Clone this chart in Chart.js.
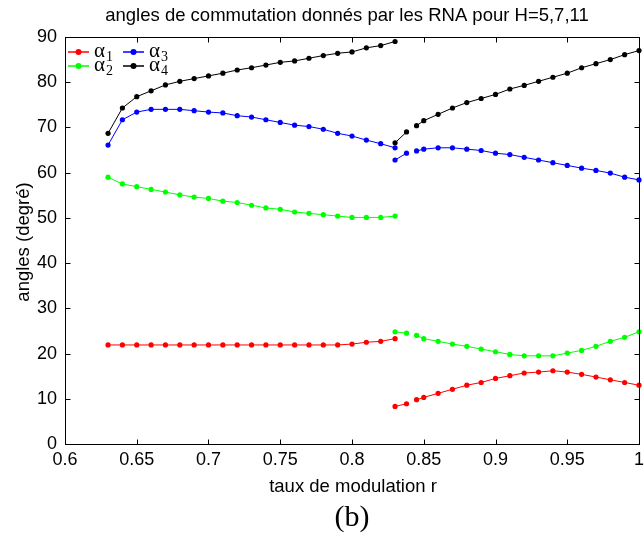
<!DOCTYPE html>
<html>
<head>
<meta charset="utf-8">
<script src="https://cdn.jsdelivr.net/npm/chart.js@4/dist/chart.umd.min.js"></script>
<style>
  html, body { margin: 0; padding: 0; background: #fff; }
  #wrap { width: 644px; height: 538px; }
</style>
</head>
<body>
<div id="wrap"><canvas id="graficoAngles" width="644" height="538"></canvas></div>
<script>
// taux de modulation r (null = coupure de la courbe)
const tauxR = [
  0.63, 0.64, 0.65, 0.66, 0.67, 0.68, 0.69, 0.70, 0.71, 0.72, 0.73,
  0.74, 0.75, 0.76, 0.77, 0.78, 0.79, 0.80, 0.81, 0.82, 0.83,
  null,
  0.83, 0.838,
  null,
  0.845, 0.85, 0.86, 0.87, 0.88, 0.89, 0.90, 0.91, 0.92, 0.93,
  0.94, 0.95, 0.96, 0.97, 0.98, 0.99, 1.00
];

const alpha1 = [
  21.9, 21.9, 21.9, 21.9, 21.9, 21.9, 21.9, 21.9, 21.9, 21.9, 21.9,
  21.9, 21.9, 21.9, 21.9, 21.9, 21.9, 22.1, 22.5, 22.7, 23.3,
  null,
  8.3, 8.9,
  null,
  9.8, 10.3, 11.2, 12.1, 13.0, 13.6, 14.5, 15.1, 15.7, 15.9,
  16.2, 15.9, 15.4, 14.8, 14.2, 13.6, 13.0
];

const alpha2 = [
  59.0, 57.5, 56.9, 56.3, 55.7, 55.1, 54.6, 54.3, 53.7, 53.4, 52.8,
  52.2, 51.9, 51.3, 51.0, 50.7, 50.4, 50.1, 50.1, 50.1, 50.4,
  null,
  24.8, 24.5,
  null,
  24.0, 23.3, 22.7, 22.1, 21.6, 21.0, 20.4, 19.8, 19.5, 19.5,
  19.5, 20.1, 20.7, 21.6, 22.7, 23.6, 24.8
];

const alpha3 = [
  66.1, 71.7, 73.4, 74.0, 74.0, 74.0, 73.7, 73.4, 73.2, 72.6, 72.3,
  71.7, 71.1, 70.5, 70.2, 69.6, 68.7, 68.1, 67.2, 66.4, 65.5,
  null,
  62.8, 64.3,
  null,
  64.8, 65.2, 65.5, 65.5, 65.2, 64.9, 64.3, 64.0, 63.4, 62.8,
  62.2, 61.6, 61.0, 60.5, 59.9, 59.0, 58.4
];

const alpha4 = [
  68.7, 74.3, 76.8, 78.1, 79.4, 80.2, 80.8, 81.4, 82.0, 82.7, 83.2,
  83.8, 84.4, 84.7, 85.3, 85.9, 86.4, 86.7, 87.6, 88.1, 89.0,
  null,
  66.6, 69.0,
  null,
  70.4, 71.5, 72.9, 74.3, 75.5, 76.4, 77.3, 78.5, 79.3, 80.2,
  81.1, 82.0, 83.2, 84.1, 85.0, 86.1, 87.0
];

const xTicks = [0.6, 0.65, 0.7, 0.75, 0.8, 0.85, 0.9, 0.95, 1];
const yTicks = [0, 10, 20, 30, 40, 50, 60, 70, 80, 90];

const series = [
  { nom: "1", valeurs: alpha1, couleur: "#ff0000" },
  { nom: "2", valeurs: alpha2, couleur: "#00ff00" },
  { nom: "3", valeurs: alpha3, couleur: "#0000ff" },
  { nom: "4", valeurs: alpha4, couleur: "#000000" },
];

const police = "'Liberation Sans', Arial, sans-serif";

function versPoints(valeurs) {
  return tauxR.map((r, i) => ({ x: r, y: valeurs[i] }));
}

// cadre, graduations vers l'intérieur, titres et légende façon Matlab
const habillage = {
  id: "habillage",
  afterDraw(chart) {
    const ctx = chart.ctx;
    const { left, right, top, bottom } = chart.chartArea;
    const sx = chart.scales.x;
    const sy = chart.scales.y;
    const L = Math.round(left) + 0.5;
    const R = Math.round(right) + 0.5;
    const T = Math.round(top) + 0.5;
    const B = Math.round(bottom) + 0.5;

    ctx.save();
    ctx.strokeStyle = "#000";
    ctx.lineWidth = 1;
    ctx.strokeRect(L, T, R - L, B - T);

    const tick = 5;
    ctx.beginPath();
    xTicks.forEach((v) => {
      const px = Math.round(sx.getPixelForValue(v)) + 0.5;
      ctx.moveTo(px, B);
      ctx.lineTo(px, B - tick);
      ctx.moveTo(px, T);
      ctx.lineTo(px, T + tick);
    });
    yTicks.forEach((v) => {
      const py = Math.round(sy.getPixelForValue(v)) + 0.5;
      ctx.moveTo(L, py);
      ctx.lineTo(L + tick, py);
      ctx.moveTo(R, py);
      ctx.lineTo(R - tick, py);
    });
    ctx.stroke();

    ctx.fillStyle = "#000";
    ctx.textAlign = "center";
    ctx.textBaseline = "middle";
    ctx.font = `18.5px ${police}`;
    ctx.fillText("angles de commutation donnés par les RNA pour H=5,7,11", 347, 16);
    ctx.fillText("taux de modulation r", 353, 487);

    ctx.save();
    ctx.translate(24, 242);
    ctx.rotate(-Math.PI / 2);
    ctx.fillText("angles (degré)", 0, 0);
    ctx.restore();

    ctx.font = "30px 'Liberation Serif', 'Times New Roman', serif";
    ctx.fillText("(b)", 352, 518);

    // légende sur deux colonnes : α1 α3 / α2 α4
    const places = [
      { x: 68, y: 52 },
      { x: 68, y: 66 },
      { x: 123, y: 52 },
      { x: 123, y: 66 },
    ];
    series.forEach((s, i) => {
      const p = places[i];
      ctx.strokeStyle = s.couleur;
      ctx.fillStyle = s.couleur;
      ctx.lineWidth = 1.5;
      ctx.beginPath();
      ctx.moveTo(p.x, p.y);
      ctx.lineTo(p.x + 21, p.y);
      ctx.stroke();
      ctx.beginPath();
      ctx.arc(p.x + 10.5, p.y, 3, 0, Math.PI * 2);
      ctx.fill();

      ctx.fillStyle = "#000";
      ctx.textAlign = "left";
      ctx.textBaseline = "alphabetic";
      ctx.font = "21px 'Liberation Serif', 'Times New Roman', serif";
      ctx.fillText("α", p.x + 26, p.y + 5);
      const w = ctx.measureText("α").width;
      ctx.font = "14px 'Liberation Serif', 'Times New Roman', serif";
      ctx.fillText(s.nom, p.x + 27 + w, p.y + 9);
    });
    ctx.restore();
  },
};

const ctx = document.getElementById("graficoAngles");

const cfg = {
  type: "line",
  data: {
    datasets: series.map((s) => ({
      label: "α" + s.nom,
      data: versPoints(s.valeurs),
      borderColor: s.couleur,
      backgroundColor: s.couleur,
      borderWidth: 1,
      pointRadius: 2.6,
      pointBorderWidth: 0,
      pointHoverRadius: 2.6,
      spanGaps: false,
      tension: 0,
      clip: 4,
    })),
  },
  options: {
    responsive: false,
    animation: false,
    events: [],
    layout: {
      padding: { top: 37, right: 5, bottom: 0, left: 0 },
    },
    plugins: {
      legend: { display: false },
      tooltip: { enabled: false },
    },
    scales: {
      x: {
        type: "linear",
        min: 0.6,
        max: 1,
        afterBuildTicks: (scale) => {
          scale.ticks = xTicks.map((v) => ({ value: v }));
        },
        afterFit: (scale) => {
          scale.height = 94;
          scale.paddingLeft = 0;
          scale.paddingRight = 0;
        },
        grid: { display: false, drawTicks: false },
        border: { display: false },
        ticks: {
          padding: 5,
          color: "#000",
          font: { family: police, size: 18 },
          maxRotation: 0,
          autoSkip: false,
          callback: (v) => String(Number(v.toFixed(2))),
        },
      },
      y: {
        min: 0,
        max: 90,
        afterBuildTicks: (scale) => {
          scale.ticks = yTicks.map((v) => ({ value: v }));
        },
        afterFit: (scale) => {
          scale.width = 65;
          scale.paddingTop = 0;
          scale.paddingBottom = 0;
        },
        grid: { display: false, drawTicks: false },
        border: { display: false },
        ticks: {
          padding: 8,
          color: "#000",
          font: { family: police, size: 18 },
          autoSkip: false,
        },
      },
    },
  },
  plugins: [habillage],
};

const graficoAngles = new Chart(ctx, cfg);
</script>
</body>
</html>
